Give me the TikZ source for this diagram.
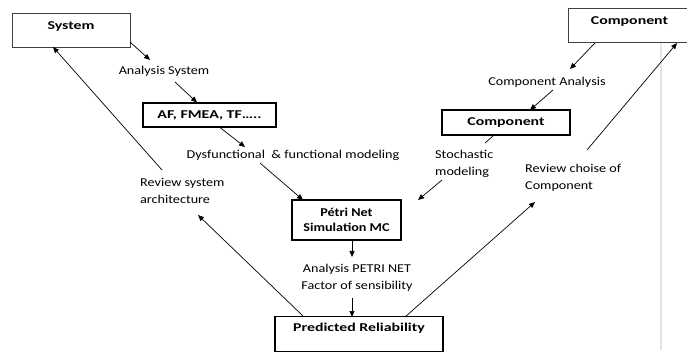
\documentclass[tikz,border=0pt]{standalone}
\usepackage{fontspec}
\setmainfont{Carlito}
\newfontfamily\regfnt[FakeStretch=1.18]{Carlito}
\newfontfamily\bfnt[FakeStretch=1.32]{Carlito}
\usetikzlibrary{arrows.meta,calc}
\begin{document}
\begin{tikzpicture}[x=1pt,y=-1pt,
  thick box/.style={draw, line width=1.4pt, inner sep=0pt, font=\bfnt\fontsize{12}{15}\selectfont\bfseries, align=center},
  thin box/.style={draw=black!75, line width=0.8pt, inner sep=0pt, font=\bfnt\fontsize{12}{15}\selectfont\bfseries},
  lbl/.style={inner sep=0pt, font=\regfnt\fontsize{12}{17}\selectfont, align=left},
  arr/.style={-{Triangle[length=6pt,width=5pt]}, line width=0.7pt},
  plain/.style={line width=0.7pt}]
\useasboundingbox (0,0) rectangle (687,352);
% faint vertical rule
\draw[black!10, line width=1.6pt] (661,42) -- (661,350);
% nodes
\node[thin box, minimum width=118pt, minimum height=34pt, text depth=9pt] (sys) at (71,30) {System};
\node[lbl] (asys) at (164,71) {Analysis System};
\node[thick box, minimum width=133pt, minimum height=24pt] (af) at (209.5,115) {AF, FMEA, TF…..};
\node[lbl] (dys) at (293,155) {Dysfunctional \ \& functional modeling};
\node[thick box, minimum width=109pt, minimum height=40pt, font=\regfnt\fontsize{12}{15}\selectfont\bfseries] (petri) at (346.5,220) {Pétri Net\\Simulation MC};
\node[lbl, anchor=west] (rev1) at (140,191) {Review system\\architecture};
\node[lbl, align=center] (apn) at (357,278) {Analysis PETRI NET\\Factor of sensibility};
\node[thick box, minimum width=168pt, minimum height=35pt, text depth=13pt] (pred) at (359,334) {Predicted Reliability};
\node[thin box, minimum width=122pt, minimum height=34pt, text depth=9pt] (compT) at (629.5,25) {Component};
\node[lbl] (canal) at (547,82) {Component Analysis};
\node[thick box, minimum width=128pt, minimum height=25pt] (compM) at (506,122.5) {Component};
\node[lbl, anchor=west] (stoch) at (435,164) {Stochastic\\modeling};
\node[lbl, anchor=west] (rev2) at (525,177.5) {Review choise of\\Component};
% connectors
\draw[arr] ($(sys)+(59,12)$) -- ($(asys)+(-14,-11)$);
\draw[arr] ($(asys)+(11,11)$) -- ($(af)+(-12.5,-12.5)$);
\draw[arr] ($(af)+(10.5,12.5)$) -- ($(dys)+(-48,-8)$);
\draw[arr] ($(dys)+(-33,8)$) -- ($(petri)+(-43.5,-20)$);
\draw[arr] ($(compT)+(-34.5,18)$) -- ($(canal)+(23,-13)$);
\draw[arr] ($(canal)+(6,8)$) -- ($(compM)+(24,-12.5)$);
\draw[plain] ($(compM)+(-13,13.5)$) -- ($(stoch.west)+(50,-21)$);
\draw[arr] ($(stoch.west)+(7,16)$) -- ($(petri)+(71.5,-20)$);
\draw[arr] ($(petri)+(5.5,20)$) -- ($(apn)+(-5,-21)$);
\draw[arr] ($(apn)+(-5,20)$) -- ($(pred)+(-7,-17)$);
\draw[arr] ($(pred)+(-56,-18)$) -- ($(rev1.west)+(58,24)$);
\draw[arr] ($(rev1.west)+(22,-21)$) -- ($(sys)+(-18,17)$);
\draw[arr] ($(pred)+(46,-17)$) -- ($(rev2.west)+(10,24.5)$);
\draw[arr] ($(rev2.west)+(62,-27.5)$) -- ($(compT)+(47.5,18)$);
\end{tikzpicture}
\end{document}
